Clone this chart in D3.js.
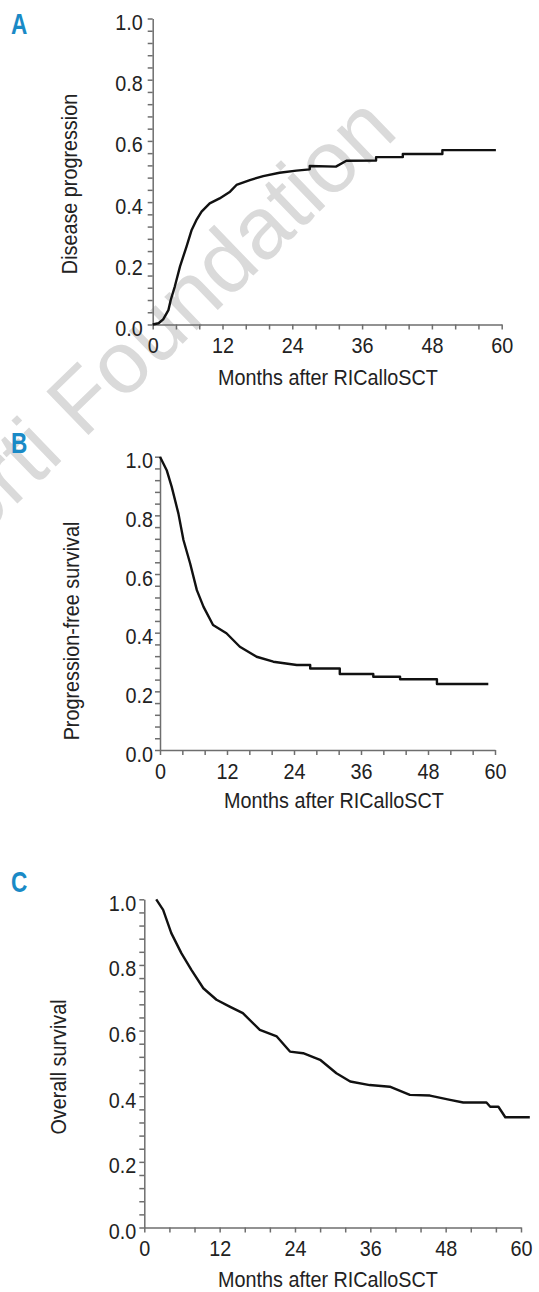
<!DOCTYPE html>
<html>
<head>
<meta charset="utf-8">
<script src="https://cdn.jsdelivr.net/npm/d3@7"></script>
<style>
  body { margin: 0; background: #fff; }
  svg { display: block; }
  .axis path, .axis line { stroke: #6e6e6e; stroke-width: 1.5; }
  .axis text { font-family: "Liberation Sans", Arial, sans-serif; font-size: 22px; fill: #222; }
  .lbl { font-family: "Liberation Sans", Arial, sans-serif; font-size: 22px; fill: #222; }
  .letter { font-family: "Liberation Sans", Arial, sans-serif; font-size: 29px; font-weight: bold; fill: #1a8ac6; }
</style>
</head>
<body>
<div id="chart"></div>
<script>
// values
var yTicks = [0, 0.2, 0.4, 0.6, 0.8, 1.0];
var xTicks = [0, 12, 24, 36, 48, 60];
var xLabel = "Months after RICalloSCT";

// A - cumulative incidence of disease progression
var monthsA = [0, 1.0, 1.8, 2.7, 3.1, 3.8, 4.7, 5.8, 6.7, 7.5, 8.4, 9.8, 11.5, 13.3, 14.4, 16.7, 19.0, 21.8, 24.7, 27.0, 27.0, 31.5, 33.3, 38.4, 38.4, 43.0, 43.0, 49.8, 49.8, 59.0];
var progA = [0, 0.004, 0.017, 0.047, 0.08, 0.124, 0.19, 0.254, 0.309, 0.341, 0.369, 0.396, 0.412, 0.434, 0.456, 0.472, 0.485, 0.496, 0.503, 0.507, 0.518, 0.516, 0.535, 0.536, 0.547, 0.547, 0.557, 0.557, 0.570, 0.570];

// B - progression-free survival
var monthsB = [0, 1.2, 2.1, 3.3, 4.2, 5.4, 6.6, 7.8, 9.5, 11.9, 14.3, 17.3, 20.3, 24.5, 26.9, 26.9, 32.2, 32.2, 38.2, 38.2, 43.0, 43.0, 49.6, 49.6, 58.8];
var pfsB = [1.0, 0.954, 0.897, 0.806, 0.716, 0.636, 0.545, 0.488, 0.426, 0.398, 0.352, 0.318, 0.301, 0.29, 0.29, 0.278, 0.278, 0.259, 0.259, 0.25, 0.25, 0.241, 0.241, 0.225, 0.225];

// C - overall survival
var monthsC = [1.9, 3.0, 4.3, 5.9, 7.5, 9.4, 11.5, 13.6, 15.7, 18.4, 21.1, 23.2, 25.3, 28.0, 30.6, 32.8, 35.9, 39.1, 42.3, 45.5, 48.7, 50.8, 54.5, 55.1, 56.4, 57.5, 61.4];
var osC = [1.0, 0.968, 0.897, 0.836, 0.785, 0.729, 0.694, 0.673, 0.653, 0.602, 0.582, 0.536, 0.531, 0.511, 0.47, 0.445, 0.434, 0.429, 0.404, 0.402, 0.389, 0.381, 0.381, 0.368, 0.368, 0.336, 0.336];

var W = 539, H = 1292;
var SQ = 0.9;   // horizontal squeeze, stands in for a condensed face

var svg = d3.select("#chart").append("svg")
    .attr("width", W)
    .attr("height", H);

// journal watermark sits under everything
svg.append("text")
    .attr("transform", "translate(400,134) rotate(-44)")
    .attr("text-anchor", "end")
    .attr("font-family", "Liberation Sans, Arial, sans-serif")
    .attr("font-size", 88)
    .attr("fill", "#dadada")
    .text("Ferrata Storti Foundation");

var panels = [
    { letter: "A", ly: 34, yLabel: "Disease progression", months: monthsA, vals: progA,
      x: [152.7, 501.7], y: [324.5, 18.5], yl: [69, 184], xl: [328, 385], pad: 5 },
    { letter: "B", ly: 453, yLabel: "Progression-free survival", months: monthsB, vals: pfsB,
      x: [160, 495], y: [750, 456.7], yl: [71, 631], xl: [334, 808], pad: 2 },
    { letter: "C", ly: 892, yLabel: "Overall survival", months: monthsC, vals: osC,
      x: [144.3, 521], y: [1227.5, 899.3], yl: [58, 1067], xl: [328, 1287], pad: 3 }
];

function squeeze(sel) {
    sel.each(function() {
        var t = d3.select(this);
        var x = +t.attr("x") || 0;
        t.attr("x", x / SQ).attr("transform", "scale(" + SQ + ",1)");
    });
}

panels.forEach(function(p) {
    var x = d3.scaleLinear().domain([0, 60]).range(p.x);
    var y = d3.scaleLinear().domain([0, 1]).range(p.y);

    var g = svg.append("g");

    var yMinor = d3.range(0, 1.0001, 0.04);
    var yAx = g.append("g")
        .attr("class", "axis")
        .attr("transform", "translate(" + p.x[0] + ",0)")
        .call(d3.axisLeft(y)
            .tickValues(yMinor)
            .tickSize(5)
            .tickSizeOuter(0)
            .tickPadding(p.pad)
            .tickFormat(function(d) {
                var hit = yTicks.some(function(t) { return Math.abs(t - d) < 1e-6; });
                return hit ? d3.format(".1f")(d) : "";
            }));
    yAx.selectAll("text").attr("dy", "0.5em").call(squeeze);

    var xMinor = d3.range(0, 60.001, 4);
    var xAx = g.append("g")
        .attr("class", "axis")
        .attr("transform", "translate(0," + p.y[0] + ")")
        .call(d3.axisBottom(x)
            .tickValues(xMinor)
            .tickSize(5)
            .tickSizeOuter(0)
            .tickPadding(8)
            .tickFormat(function(d) { return xTicks.indexOf(d) >= 0 ? d : ""; }));
    xAx.selectAll("text").call(squeeze);

    var pts = p.months.map(function(m, i) { return [m, p.vals[i]]; });
    var line = d3.line()
        .x(function(d) { return x(d[0]); })
        .y(function(d) { return y(d[1]); });

    g.append("path")
        .datum(pts)
        .attr("fill", "none")
        .attr("stroke", "#111")
        .attr("stroke-width", 2.4)
        .attr("stroke-linejoin", "round")
        .attr("d", line);

    g.append("text")
        .attr("class", "lbl")
        .attr("text-anchor", "middle")
        .attr("transform", "translate(" + p.yl[0] + "," + p.yl[1] + ") rotate(-90) scale(" + SQ + ",1)")
        .attr("dy", "0.35em")
        .text(p.yLabel);

    g.append("text")
        .attr("class", "lbl")
        .attr("text-anchor", "middle")
        .attr("transform", "translate(" + p.xl[0] + "," + p.xl[1] + ") scale(" + SQ + ",1)")
        .text(xLabel);

    g.append("text")
        .attr("class", "letter")
        .attr("transform", "translate(11," + p.ly + ") scale(0.78,1)")
        .text(p.letter);
});
</script>
</body>
</html>
